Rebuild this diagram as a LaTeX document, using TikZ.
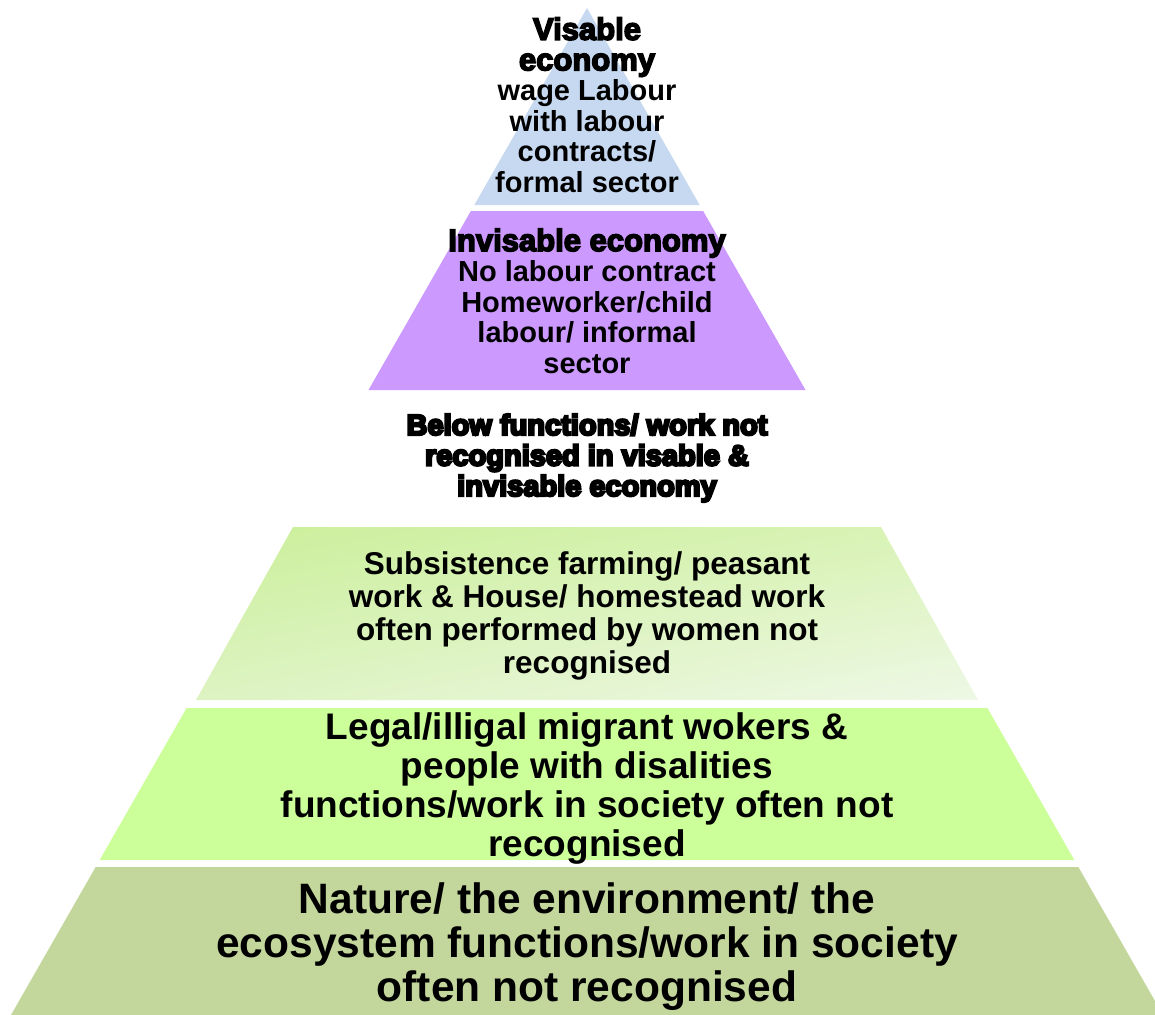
\documentclass[tikz,border=0pt]{standalone}
\usepackage{fontspec}
\setmainfont{Liberation Sans}
\newfontfamily\headfont{Liberation Sans}[BoldFeatures={FakeBold=5}]
\newfontfamily\heavyfont{Liberation Sans}[BoldFeatures={FakeBold=8}]
\usepackage{tikz}
\usetikzlibrary{shadings,positioning}
\definecolor{visblue}{HTML}{C6D9F1}
\definecolor{invpurple}{HTML}{CC99FF}
\definecolor{farmtl}{HTML}{CBEF9A}
\definecolor{farmtr}{HTML}{DAF3B8}
\definecolor{farmbl}{HTML}{DDF3C2}
\definecolor{farmbr}{HTML}{EEF8E6}
\definecolor{migrgreen}{HTML}{CCFF99}
\definecolor{natgreen}{HTML}{C3D69B}
\tikzset{tier text/.style={align=center,inner sep=0pt,text=black},
            }
\newcommand{\headbf}[1]{{\fontsize{31}{30.5}\selectfont\headfont\bfseries #1}}

\begin{document}
\begin{tikzpicture}[x=1pt,y=-1pt]

    \useasboundingbox (0,0) rectangle (1155,1014);
    \clip (0,0) rectangle (1155,1014);

    % pyramid tiers, apex at (587,8)
    \foreach \ytop/\ybot/\tiercol in {8/205/visblue,211/390/invpurple,708/860/migrgreen,867/1020/natgreen}{
        \pgfmathsetmacro{\wtop}{0.572*(\ytop-8)}
        \pgfmathsetmacro{\wbot}{0.572*(\ybot-8)}
        \fill[\tiercol] (587-\wtop,\ytop) -- (587+\wtop,\ytop) -- (587+\wbot,\ybot) -- (587-\wbot,\ybot) -- cycle;
    }
    \shade[upper left=farmtl,upper right=farmtr,lower left=farmbl,lower right=farmbr]
    (293,527) -- (881,527) -- (978,700) -- (196,700) -- cycle;

    \node[tier text,font=\fontsize{29}{30.5}\selectfont\bfseries] (visable) at (587,105)
        {\headbf{Visable}\\ \headbf{economy}\\ wage Labour\\ with labour\\ contracts/\\ formal sector};
    \node[tier text,font=\fontsize{29}{30.5}\selectfont\bfseries] (invisable) at (587,301)
        {\headbf{Invisable economy}\\ No labour contract\\ Homeworker/child\\ labour/ informal\\ sector};
    \node[tier text,font=\fontsize{29}{30.5}\selectfont\heavyfont\bfseries] (below) at (587,458)
        {Below functions/ work not\\ recognised in visable \&\\ invisable economy};
    \node[tier text,font=\fontsize{31.5}{33}\selectfont\bfseries] (farming) at (587,616)
        {Subsistence farming/ peasant\\ work \& House/ homestead work\\ often performed by women not\\ recognised};
    \node[tier text,font=\fontsize{37}{39}\selectfont\bfseries] (migrant) at (587,789)
        {Legal/illigal migrant wokers \&\\ people with disalities\\ functions/work in society often not\\ recognised};
    \node[tier text,font=\fontsize{42.5}{44}\selectfont\bfseries] (nature) at (587,947)
        {Nature/ the environment/ the\\ ecosystem functions/work in society\\ often not recognised};

\end{tikzpicture}
\end{document}
